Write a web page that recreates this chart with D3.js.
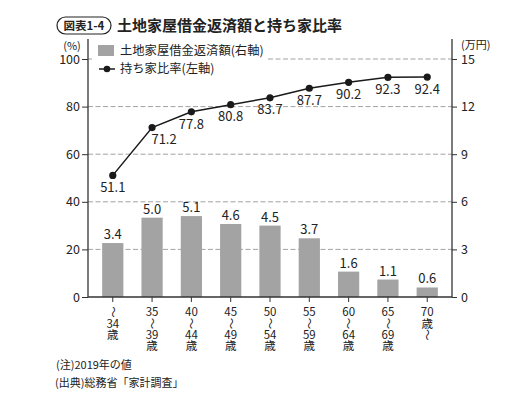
<!DOCTYPE html>
<html>
<head>
<meta charset="utf-8">
<script src="https://cdn.jsdelivr.net/npm/d3@7"></script>
<style>
  body { margin: 0; background: #fff; }
  svg { font-family: "Noto Sans CJK JP", "Noto Sans", sans-serif; }
</style>
</head>
<body>
<svg id="chart" width="520" height="399"></svg>
<script>
// age groups, each label is a vertical stack of lines
var ageLabels = [
    ["〜", "34", "歳"],
    ["35", "〜", "39", "歳"],
    ["40", "〜", "44", "歳"],
    ["45", "〜", "49", "歳"],
    ["50", "〜", "54", "歳"],
    ["55", "〜", "59", "歳"],
    ["60", "〜", "64", "歳"],
    ["65", "〜", "69", "歳"],
    ["70", "歳", "〜"]
];
var repayment = [3.4, 5.0, 5.1, 4.6, 4.5, 3.7, 1.6, 1.1, 0.6];      // 万円, right axis
var ownership = [51.1, 71.2, 77.8, 80.8, 83.7, 87.7, 90.2, 92.3, 92.4]; // %, left axis
var leftTicks = [0, 20, 40, 60, 80, 100];
var rightTicks = [0, 3, 6, 9, 12, 15];

var svg = d3.select("#chart");
var plotLeft = 88, plotRight = 452, plotTop = 59, plotBottom = 297;
var ink = "#222";

var x = d3.scaleBand()
    .domain(d3.range(ageLabels.length))
    .range([plotLeft, plotRight])
    .paddingInner(0.46)
    .paddingOuter(0.36);
var yL = d3.scaleLinear().domain([0, 100]).range([plotBottom, plotTop]);
var yR = d3.scaleLinear().domain([0, 15]).range([plotBottom, plotTop]);

function cx(i) {
    return x(i) + x.bandwidth() / 2;
}

// title
var title = svg.append("g");
title.append("rect")
    .attr("x", 57).attr("y", 17).attr("width", 54).attr("height", 17)
    .attr("rx", 8.5)
    .attr("fill", "none").attr("stroke", ink).attr("stroke-width", 1.2);
title.append("text")
    .attr("x", 84).attr("y", 30)
    .attr("text-anchor", "middle")
    .attr("font-size", 11.5).attr("font-weight", "bold").attr("fill", ink)
    .text("図表1-4");
title.append("text")
    .attr("x", 117).attr("y", 31)
    .attr("font-size", 15).attr("font-weight", "bold").attr("fill", ink)
    .text("土地家屋借金返済額と持ち家比率");

// dashed grid
svg.append("g").selectAll("line")
    .data(leftTicks.slice(1))
    .join("line")
    .attr("x1", plotLeft).attr("x2", plotRight)
    .attr("y1", function (d) { return yL(d); })
    .attr("y2", function (d) { return yL(d); })
    .attr("stroke", "#8a8a8a").attr("stroke-width", 0.8)
    .attr("stroke-dasharray", "5,2.5");

// bars
svg.append("g").selectAll("rect")
    .data(repayment)
    .join("rect")
    .attr("x", function (d, i) { return x(i); })
    .attr("width", x.bandwidth())
    .attr("y", function (d) { return yR(d); })
    .attr("height", function (d) { return plotBottom - yR(d); })
    .attr("fill", "#a3a3a3");

svg.append("g").selectAll("text")
    .data(repayment)
    .join("text")
    .attr("x", function (d, i) { return cx(i); })
    .attr("y", function (d) { return yR(d) - 4; })
    .attr("text-anchor", "middle")
    .attr("font-size", 13).attr("fill", ink)
    .text(function (d) { return d.toFixed(1); });

// axes
var axisColor = "#333";
var leftAxis = svg.append("g")
    .attr("transform", "translate(" + plotLeft + ",0)")
    .call(d3.axisLeft(yL).tickValues(leftTicks).tickSize(6).tickPadding(2));
var rightAxis = svg.append("g")
    .attr("transform", "translate(" + plotRight + ",0)")
    .call(d3.axisRight(yR).tickValues(rightTicks).tickSize(5).tickPadding(4));
var bottomAxis = svg.append("g")
    .attr("transform", "translate(0," + plotBottom + ")")
    .call(d3.axisBottom(x).tickSize(5).tickFormat(""));

[leftAxis, rightAxis, bottomAxis].forEach(function (a) {
    a.attr("font-family", null).attr("font-size", 12.5);
    a.select(".domain").attr("stroke", axisColor).attr("stroke-width", 1.3);
    a.selectAll(".tick line").attr("stroke", axisColor).attr("stroke-width", 1);
    a.selectAll(".tick text").attr("fill", ink);
});
bottomAxis.select(".domain").attr("d", "M" + plotLeft + ",0H" + plotRight);
leftAxis.select(".domain").attr("d", "M0," + (plotTop - 20) + "V" + plotBottom);
rightAxis.select(".domain").attr("d", "M0," + (plotTop - 20) + "V" + plotBottom);

svg.append("text")
    .attr("x", 72).attr("y", 49.5)
    .attr("text-anchor", "middle")
    .attr("font-size", 11).attr("fill", ink)
    .text("(%)");
svg.append("text")
    .attr("x", 461).attr("y", 49)
    .attr("font-size", 11).attr("fill", ink)
    .text("(万円)");

// age labels, stacked vertically
var rowStep = 11.4;
var ageG = svg.append("g").selectAll("g")
    .data(ageLabels)
    .join("g")
    .attr("transform", function (d, i) { return "translate(" + cx(i) + ",312)"; });
ageG.selectAll("text")
    .data(function (d) { return d; })
    .join("text")
    .attr("text-anchor", "middle")
    .attr("font-size", 11.5).attr("fill", ink)
    .attr("transform", function (d, j) {
        var t = "translate(0," + (j * rowStep) + ")";
        return d === "〜" ? t + " rotate(90)" : t;
    })
    .attr("dy", "0.36em")
    .text(function (d) { return d; });

// ownership line
var line = d3.line()
    .x(function (d, i) { return cx(i); })
    .y(function (d) { return yL(d); });
svg.append("path")
    .datum(ownership)
    .attr("d", line)
    .attr("fill", "none").attr("stroke", "#1a1a1a").attr("stroke-width", 1.5);
svg.append("g").selectAll("circle")
    .data(ownership)
    .join("circle")
    .attr("cx", function (d, i) { return cx(i); })
    .attr("cy", function (d) { return yL(d); })
    .attr("r", 3.6)
    .attr("fill", "#1a1a1a");
var labelDx = [0, 12, 0, 0, 0, 0, 0, 0, 0];
svg.append("g").selectAll("text")
    .data(ownership)
    .join("text")
    .attr("x", function (d, i) { return cx(i) + labelDx[i]; })
    .attr("y", function (d) { return yL(d) + 12; })
    .attr("dy", "0.36em")
    .attr("text-anchor", "middle")
    .attr("font-size", 13).attr("fill", ink)
    .text(function (d) { return d.toFixed(1); });

// legend
var legend = svg.append("g");
legend.append("rect")
    .attr("x", 92).attr("y", 42).attr("width", 176).attr("height", 36)
    .attr("fill", "#fff");
legend.append("rect")
    .attr("x", 98).attr("y", 45).attr("width", 16).attr("height", 11)
    .attr("fill", "#a3a3a3");
legend.append("text")
    .attr("x", 120).attr("y", 51).attr("dy", "0.36em")
    .attr("font-size", 12.3).attr("fill", ink)
    .text("土地家屋借金返済額(右軸)");
legend.append("line")
    .attr("x1", 99).attr("x2", 115).attr("y1", 69).attr("y2", 69)
    .attr("stroke", "#1a1a1a").attr("stroke-width", 1.5);
legend.append("circle")
    .attr("cx", 107).attr("cy", 69).attr("r", 3.3)
    .attr("fill", "#1a1a1a");
legend.append("text")
    .attr("x", 120).attr("y", 69).attr("dy", "0.36em")
    .attr("font-size", 12.3).attr("fill", ink)
    .text("持ち家比率(左軸)");

// notes
svg.append("text")
    .attr("x", 56).attr("y", 369)
    .attr("font-size", 11).attr("fill", ink)
    .text("(注)2019年の値");
svg.append("text")
    .attr("x", 55).attr("y", 387)
    .attr("font-size", 11).attr("fill", ink)
    .text("(出典)総務省「家計調査」");
</script>
</body>
</html>
